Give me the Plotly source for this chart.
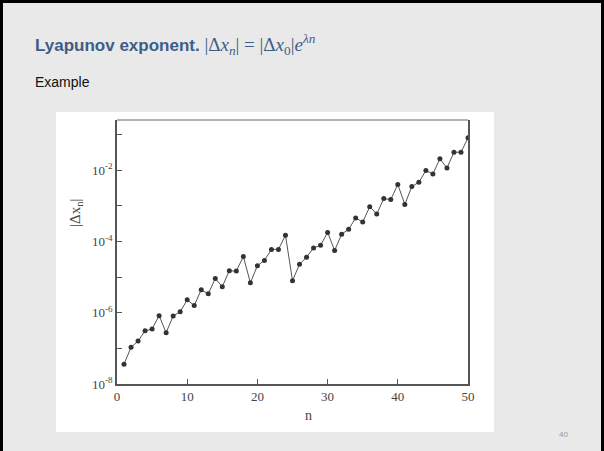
import plotly.graph_objects as go

n_values = list(range(1, 51))
delta_x = [
    3.6e-8, 1.07e-7, 1.6e-7, 3.1e-7, 3.5e-7, 8.3e-7, 2.75e-7, 8.1e-7, 1.07e-6, 2.3e-6,
    1.6e-6, 4.4e-6, 3.4e-6, 9.1e-6, 5.4e-6, 1.5e-5, 1.48e-5, 3.8e-5, 6.9e-6, 2.1e-5,
    2.95e-5, 6.0e-5, 6.0e-5, 1.5e-4, 7.9e-6, 2.3e-5, 3.6e-5, 6.6e-5, 7.8e-5, 1.8e-4,
    5.6e-5, 1.6e-4, 2.2e-4, 4.6e-4, 3.5e-4, 9.5e-4, 5.9e-4, 1.6e-3, 1.5e-3, 4.0e-3,
    1.1e-3, 3.5e-3, 4.6e-3, 9.8e-3, 7.9e-3, 2.1e-2, 1.15e-2, 3.2e-2, 3.2e-2, 8.1e-2,
]
x_ticks = [0, 10, 20, 30, 40, 50]
y_ticks = [1e-8, 1e-7, 1e-6, 1e-5, 1e-4, 1e-3, 1e-2, 1e-1]
y_tick_labels = ["10<sup>-8</sup>", "", "10<sup>-6</sup>", "", "10<sup>-4</sup>", "",
                 "10<sup>-2</sup>", ""]

W, H = 604, 451
L, R, T, B = 117, 136, 120, 67
PW, PH = W - L - R, H - T - B


def px(xp):
    return (xp - L) / PW


def py(yp):
    return (H - B - yp) / PH


fig = go.Figure()
fig.add_trace(go.Scatter(
    x=n_values, y=delta_x, mode="lines+markers",
    line=dict(color="#555555", width=1),
    marker=dict(color="#333333", size=5),
    showlegend=False, hoverinfo="skip",
))

serif = "Liberation Serif, Times New Roman, serif"
axis_color = "#555555"

fig.update_layout(
    width=W, height=H,
    margin=dict(l=L, r=R, t=T, b=B, pad=0),
    paper_bgcolor="#e9e9e9",
    plot_bgcolor="white",
    xaxis=dict(
        range=[0, 50], tickvals=x_ticks, ticks="inside", ticklen=5, tickwidth=1,
        tickcolor=axis_color, showline=True, linecolor=axis_color, linewidth=1.5,
        showgrid=False, zeroline=False,
        tickfont=dict(family=serif, size=13, color="#444444"),
    ),
    yaxis=dict(
        type="log", range=[-8, -0.59], tickvals=y_ticks, ticktext=y_tick_labels,
        ticks="inside", ticklen=5, tickwidth=1, tickcolor=axis_color,
        showline=True, linecolor=axis_color, linewidth=1.5, mirror=True,
        showgrid=False, zeroline=False,
        tickfont=dict(family=serif, size=13, color="#444444"),
    ),
    font=dict(family="Liberation Sans, Arial, sans-serif"),
)

shapes = [
    # white image box
    dict(type="rect", xref="paper", yref="paper", x0=px(56), x1=px(494), y0=py(432), y1=py(112),
         fillcolor="white", line=dict(width=0), layer="below"),
    # top grey frame line of plot
    dict(type="line", xref="paper", yref="paper", x0=0, x1=1, y0=1, y1=1,
         line=dict(color="#999999", width=1.5)),
    # slide border (left, top, right)
    dict(type="rect", xref="paper", yref="paper", x0=px(0), x1=px(3), y0=py(451), y1=py(0),
         fillcolor="#000000", line=dict(width=0), layer="above"),
    dict(type="rect", xref="paper", yref="paper", x0=px(0), x1=px(604), y0=py(3), y1=py(0),
         fillcolor="#000000", line=dict(width=0), layer="above"),
    dict(type="rect", xref="paper", yref="paper", x0=px(601), x1=px(604), y0=py(451), y1=py(0),
         fillcolor="#000000", line=dict(width=0), layer="above"),
]
fig.update_layout(shapes=shapes)

title_text = (
    "<b>Lyapunov exponent.</b> "
    "<span style=\"font-family:Liberation Serif, serif;font-size:19px\">|Δ<i>x</i><sub><i>n</i></sub>| = "
    "|Δ<i>x</i><sub>0</sub>|<i>e</i><sup><i>λn</i></sup></span>"
)

annotations = [
    dict(text=title_text, x=px(33), y=py(44), xref="paper", yref="paper",
         xanchor="left", yanchor="middle", showarrow=False,
         font=dict(family="Liberation Sans, Arial, sans-serif", size=17, color="#3d5d88")),
    dict(text="Example", x=px(33), y=py(82), xref="paper", yref="paper",
         xanchor="left", yanchor="middle", showarrow=False,
         font=dict(family="Liberation Sans, Arial, sans-serif", size=14, color="#111111")),
    dict(text="40", x=px(563), y=py(434), xref="paper", yref="paper",
         xanchor="center", yanchor="middle", showarrow=False,
         font=dict(family="Liberation Sans, Arial, sans-serif", size=8, color="#9a9a9a")),
    dict(text="|Δx<sub>n</sub>|", x=px(76), y=py(213), xref="paper", yref="paper",
         xanchor="center", yanchor="middle", showarrow=False, textangle=-90,
         font=dict(family=serif, size=15, color="#444444")),
    dict(text="n", x=px(308), y=py(415), xref="paper", yref="paper",
         xanchor="center", yanchor="middle", showarrow=False,
         font=dict(family=serif, size=14, color="#444444")),
]
fig.update_layout(annotations=annotations)

fig.write_html(
    "out.html",
    config={"displayModeBar": False},
    post_script="document.body.style.margin='0';document.body.style.overflow='hidden';",
)
